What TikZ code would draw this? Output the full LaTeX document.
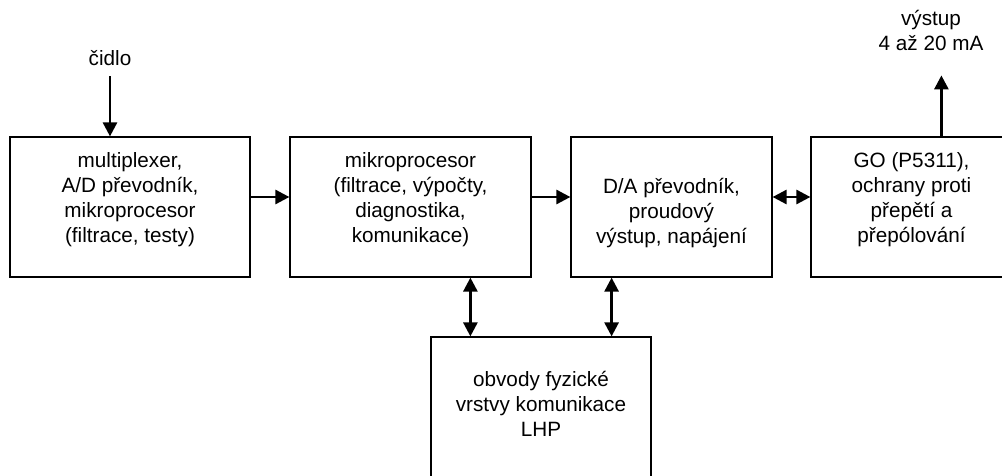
\documentclass[tikz,border=0pt]{standalone}
\usepackage{fontspec}
\setmainfont{Liberation Sans}
\usetikzlibrary{arrows.meta}

\begin{document}
\begin{tikzpicture}[x=1pt,y=-1pt,
  blk/.style={draw=black, line width=1.2pt, minimum height=140pt, inner sep=0pt},
  lbl/.style={align=center, anchor=base, inner sep=0pt,
    font=\fontsize{20.7}{25}\selectfont},
  tip/.style={Triangle[length=14pt,width=14pt]},
  arr/.style={line width=2.7pt, -{Triangle[length=14pt,width=14pt]}},
  darr/.style={line width=2.7pt, {Triangle[length=14pt,width=14pt]}-{Triangle[length=14pt,width=14pt]}}
]
\useasboundingbox (0,0) rectangle (1002,475);
\clip (0,0) rectangle (1002,475);

% main chain of blocks
\node[blk, minimum width=240pt] (b1) at (130,207) {};
\node[blk, minimum width=241pt] (b2) at (410.5,207) {};
\node[blk, minimum width=201pt] (b3) at (671.5,207) {};
\node[blk, minimum width=201pt] (b4) at (911.5,207) {};
\node[blk, minimum width=220pt, minimum height=148pt] (b5) at (541,411) {};

% block captions (anchored on the baseline of the last line)
\node[lbl] (t1) at (b1.north |- 0,242) {multiplexer,\\A/D převodník,\\mikroprocesor\\(filtrace, testy)};
\node[lbl] (t2) at (b2.north |- 0,242) {mikroprocesor\\(filtrace, výpočty,\\diagnostika,\\komunikace)};
\node[lbl] (t3) at (b3.north |- 0,243) {D/A převodník,\\proudový\\výstup, napájení};
\node[lbl] (t4) at (b4.north |- 0,242) {GO (P5311),\\ochrany proti\\přepětí a\\přepólování};
\node[lbl] (t5) at (b5.north |- 0,436) {obvody fyzické\\vrstvy komunikace\\LHP};

% input and output labels
\node[lbl] (cidlo) at (110,65) {čidlo};
\node[lbl] (out) at (931,50) {výstup\\4 až 20 mA};
\coordinate (outtip) at ([xshift=131pt,yshift=61pt]b4.north west);

% connectors
\draw[arr] ([yshift=-11pt]cidlo.south) -- (cidlo.south |- b1.north);
\draw[arr] ([yshift=10pt]b1.east) -- ([yshift=10pt]b2.west);
\draw[arr] ([yshift=10pt]b2.east) -- ([yshift=10pt]b3.west);
\draw[darr] ([yshift=10pt]b3.east) -- ([yshift=10pt]b4.west);
\draw[arr] (outtip |- b4.north) -- (outtip);

\coordinate (p1) at ([xshift=40pt]b5.north west);
\coordinate (p2) at ([xshift=-40pt]b5.north east);
\draw[darr] (b2.south -| p1) -- (p1);
\draw[darr] (b3.south -| p2) -- (p2);
\end{tikzpicture}
\end{document}
